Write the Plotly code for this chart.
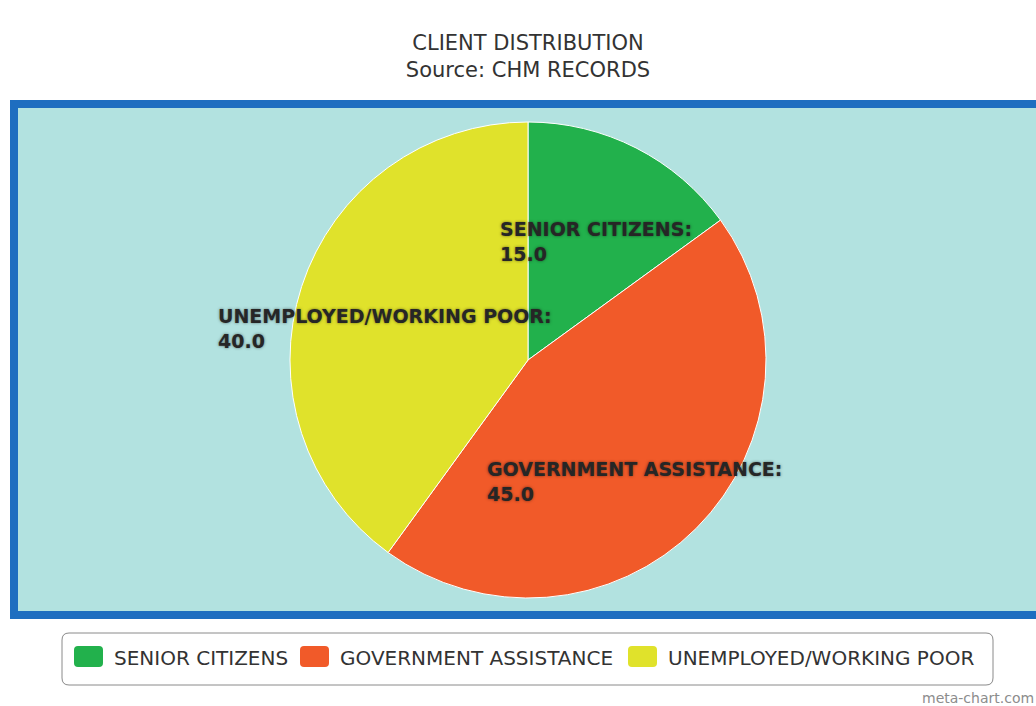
import plotly.graph_objects as go
import math

# Client distribution data
categories = ["SENIOR CITIZENS", "GOVERNMENT ASSISTANCE", "UNEMPLOYED/WORKING POOR"]
values = [15.0, 45.0, 40.0]
colors = ["#22b14c", "#f15a29", "#e0e22b"]

W, H = 1036, 706


def px_x(x):
    return x / W


def px_y(y):
    return 1 - y / H


# Pie geometry (pixels)
CX, CY, R = 528, 360, 238

fig = go.Figure(
    go.Pie(
        labels=categories,
        values=values,
        marker=dict(colors=colors, line=dict(color="#ffffff", width=1)),
        sort=False,
        direction="clockwise",
        rotation=0,
        textinfo="none",
        hoverinfo="label+value",
        showlegend=False,
        domain=dict(x=[px_x(CX - R), px_x(CX + R)], y=[px_y(CY + R), px_y(CY - R)]),
    )
)

# Plot area background with blue frame
shapes = [
    dict(
        type="rect", xref="paper", yref="paper", layer="below",
        x0=px_x(14), x1=1.05, y0=px_y(615), y1=px_y(104),
        fillcolor="#b2e2e0", line=dict(color="#1e6ec0", width=8),
    )
]

annotations = []

# Slice labels placed along each slice's mid-angle
total = sum(values)
cum = 0.0
label_r = 0.63 * R
for cat, val in zip(categories, values):
    mid = (cum + val / 2) / total * 2 * math.pi
    cum += val
    lx = CX + label_r * math.sin(mid)
    ly = CY - label_r * math.cos(mid)
    annotations.append(
        dict(
            x=px_x(lx), y=px_y(ly), xref="paper", yref="paper",
            text=f"<b>{cat}:<br>{val:.1f}</b>",
            showarrow=False, xanchor="center", yanchor="middle", align="left",
            yshift=-15,
            font=dict(family="DejaVu Sans", size=19, color="#262626",
                      shadow="0px 0px 3px rgba(0,0,0,0.5)"),
        )
    )

# Legend box with rounded corners
lx0, lx1, ly0, ly1, rr = 62, 993, 633, 685, 7


def P(x, y):
    return f"{px_x(x)},{px_y(y)}"


path = (
    f"M {P(lx0 + rr, ly0)} L {P(lx1 - rr, ly0)} Q {P(lx1, ly0)} {P(lx1, ly0 + rr)} "
    f"L {P(lx1, ly1 - rr)} Q {P(lx1, ly1)} {P(lx1 - rr, ly1)} "
    f"L {P(lx0 + rr, ly1)} Q {P(lx0, ly1)} {P(lx0, ly1 - rr)} "
    f"L {P(lx0, ly0 + rr)} Q {P(lx0, ly0)} {P(lx0 + rr, ly0)} Z"
)
shapes.append(dict(type="path", xref="paper", yref="paper", path=path,
                   fillcolor="#ffffff", line=dict(color="#8a8a8a", width=1)))

legend_item_x = [74, 300, 628]
sw_w, sw_h, sw_y = 29, 21, 646
for cat, col, x in zip(categories, colors, legend_item_x):
    r2 = 4
    sp = (
        f"M {P(x + r2, sw_y)} L {P(x + sw_w - r2, sw_y)} Q {P(x + sw_w, sw_y)} {P(x + sw_w, sw_y + r2)} "
        f"L {P(x + sw_w, sw_y + sw_h - r2)} Q {P(x + sw_w, sw_y + sw_h)} {P(x + sw_w - r2, sw_y + sw_h)} "
        f"L {P(x + r2, sw_y + sw_h)} Q {P(x, sw_y + sw_h)} {P(x, sw_y + sw_h - r2)} "
        f"L {P(x, sw_y + r2)} Q {P(x, sw_y)} {P(x + r2, sw_y)} Z"
    )
    shapes.append(dict(type="path", xref="paper", yref="paper", path=sp,
                       fillcolor=col, line=dict(color=col, width=0)))
    annotations.append(
        dict(
            x=px_x(x + sw_w + 9), y=px_y(658), xref="paper", yref="paper",
            text=cat, showarrow=False, xanchor="left", yanchor="middle",
            font=dict(family="DejaVu Sans", size=20, color="#333333"),
        )
    )

# Credit line
annotations.append(
    dict(
        x=1.0, y=px_y(698), xref="paper", yref="paper",
        text="meta-chart.com", showarrow=False, xanchor="right", yanchor="middle",
        font=dict(family="DejaVu Sans", size=14, color="#8c8c8c"),
    )
)

fig.update_layout(
    width=W, height=H,
    margin=dict(l=0, r=0, t=0, b=0),
    paper_bgcolor="#ffffff",
    title=dict(
        text="CLIENT DISTRIBUTION<br>Source: CHM RECORDS",
        x=px_x(528), xanchor="center",
        y=px_y(50), yanchor="middle",
        font=dict(family="DejaVu Sans", size=21, color="#333333"),
    ),
    shapes=shapes,
    annotations=annotations,
)

fig.write_html("out.html")
